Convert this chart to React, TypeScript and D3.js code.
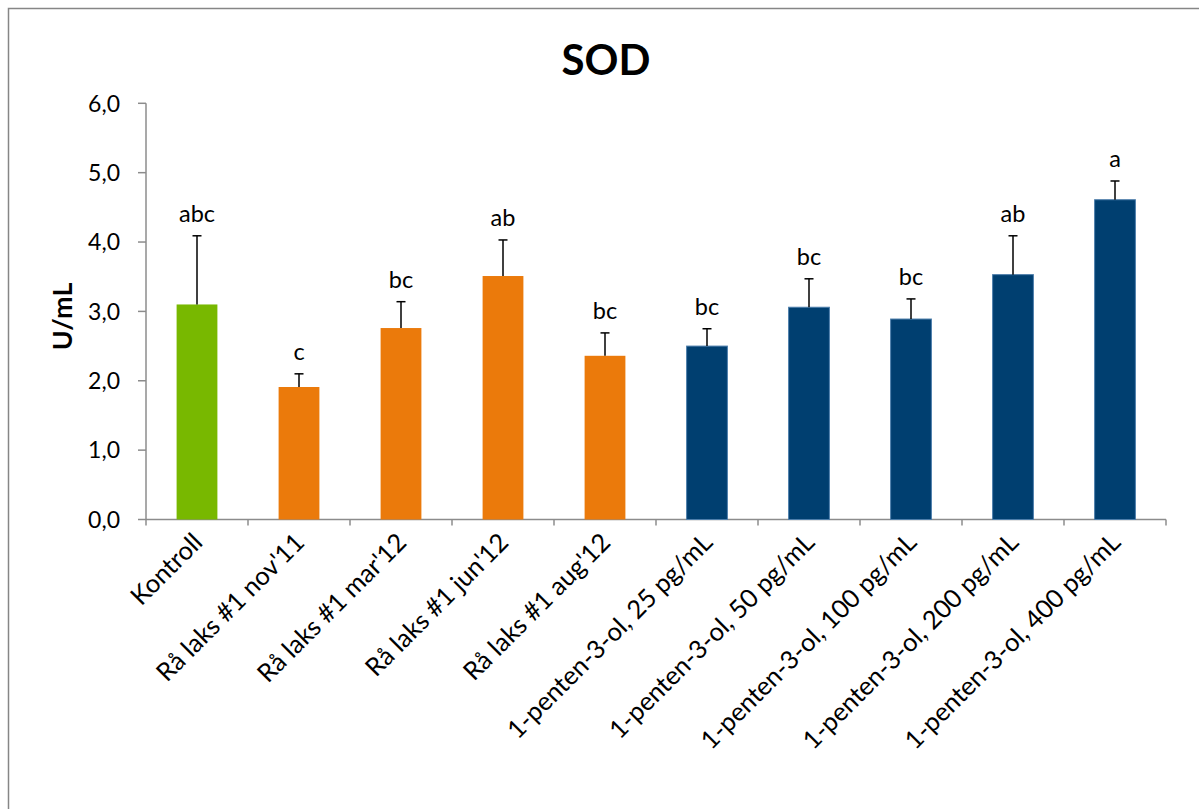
import React from "react";
import * as d3 from "d3";

const categories = [
  "Kontroll",
  "Rå laks #1 nov'11",
  "Rå laks #1 mar'12",
  "Rå laks #1 jun'12",
  "Rå laks #1 aug'12",
  "1-penten-3-ol, 25 pg/mL",
  "1-penten-3-ol, 50 pg/mL",
  "1-penten-3-ol, 100 pg/mL",
  "1-penten-3-ol, 200 pg/mL",
  "1-penten-3-ol, 400 pg/mL",
];
const means = [3.1, 1.91, 2.76, 3.51, 2.36, 2.5, 3.06, 2.89, 3.53, 4.61];
const errors = [0.99, 0.19, 0.38, 0.52, 0.33, 0.25, 0.41, 0.29, 0.56, 0.27];
const letters = ["abc", "c", "bc", "ab", "bc", "bc", "bc", "bc", "ab", "a"];
const groups = ["control", "raw", "raw", "raw", "raw", "pentenol", "pentenol", "pentenol", "pentenol", "pentenol"];
const yTicks = [0, 1, 2, 3, 4, 5, 6];

const fillByGroup: Record<string, string> = {
  control: "#78b800",
  raw: "#eb7a0b",
  pentenol: "#003f70",
};
const strokeByGroup: Record<string, string> = {
  control: "none",
  raw: "none",
  pentenol: "#4d7eab",
};

const FONT = "Lato, 'Open Sans', sans-serif";

export default function App() {
  const W = 1199;
  const H = 809;
  const left = 146;
  const right = 1166;
  const top = 103.3;
  const bottom = 519.5;

  const x = d3.scaleBand<string>().domain(categories).range([left, right]).paddingInner(0.6).paddingOuter(0.3);
  const band = d3.scaleBand<string>().domain(categories).range([left, right]);
  const y = d3.scaleLinear().domain([0, 6]).range([bottom, top]);
  const fmt = (v: number) => d3.format(".1f")(v).replace(".", ",");

  return (
    <svg
      width={W}
      height={H}
      style={{ position: "absolute", left: 0, top: 0, background: "#fff" }}
      fontFamily={FONT}
    >
      <rect x={8.5} y={8.5} width={W + 10} height={H + 10} fill="#fff" stroke="#868686" strokeWidth={1.5} />

      <text x={606} y={75} textAnchor="middle" fontSize={42} fontWeight={700} fill="#000">
        SOD
      </text>

      {/* y axis */}
      <line x1={left} x2={left} y1={top} y2={bottom} stroke="#8c8c8c" strokeWidth={1.5} />
      {yTicks.map((t) => (
        <g key={t}>
          <line x1={left - 8} x2={left} y1={y(t)} y2={y(t)} stroke="#8c8c8c" strokeWidth={1.5} />
          <text x={120} y={y(t)} dy="0.36em" textAnchor="end" fontSize={23} fill="#000">
            {fmt(t)}
          </text>
        </g>
      ))}
      <text
        transform={`translate(72, ${(top + bottom) / 2 + 5}) rotate(-90)`}
        textAnchor="middle"
        fontSize={27}
        fontWeight={700}
        fill="#000"
      >
        U/mL
      </text>

      {/* x axis */}
      <line x1={left} x2={right} y1={bottom} y2={bottom} stroke="#8c8c8c" strokeWidth={1.5} />
      {[...categories.map((c) => band(c) as number), right].map((px, i) => (
        <line key={i} x1={px} x2={px} y1={bottom} y2={bottom + 6} stroke="#8c8c8c" strokeWidth={1.5} />
      ))}

      {categories.map((c, i) => {
        const bx = x(c) as number;
        const bw = x.bandwidth();
        const cx = bx + bw / 2;
        const g = groups[i];
        const yTop = y(means[i]);
        const yErr = y(means[i] + errors[i]);
        return (
          <g key={c}>
            <rect
              x={bx}
              y={yTop}
              width={bw}
              height={bottom - yTop}
              fill={fillByGroup[g]}
              stroke={strokeByGroup[g]}
              strokeWidth={1}
            />
            <line x1={cx} x2={cx} y1={yTop} y2={yErr} stroke="#000" strokeWidth={1.5} />
            <line x1={cx - 4.5} x2={cx + 4.5} y1={yErr} y2={yErr} stroke="#000" strokeWidth={1.5} />
            <text x={cx} y={yErr - 14} textAnchor="middle" fontSize={23.5} fill="#000">
              {letters[i]}
            </text>
            <text
              transform={`translate(${(band(c) as number) + band.bandwidth() / 2 + 7}, 544) rotate(-45)`}
              textAnchor="end"
              fontSize={25.5}
              fill="#000"
            >
              {c}
            </text>
          </g>
        );
      })}
    </svg>
  );
}
